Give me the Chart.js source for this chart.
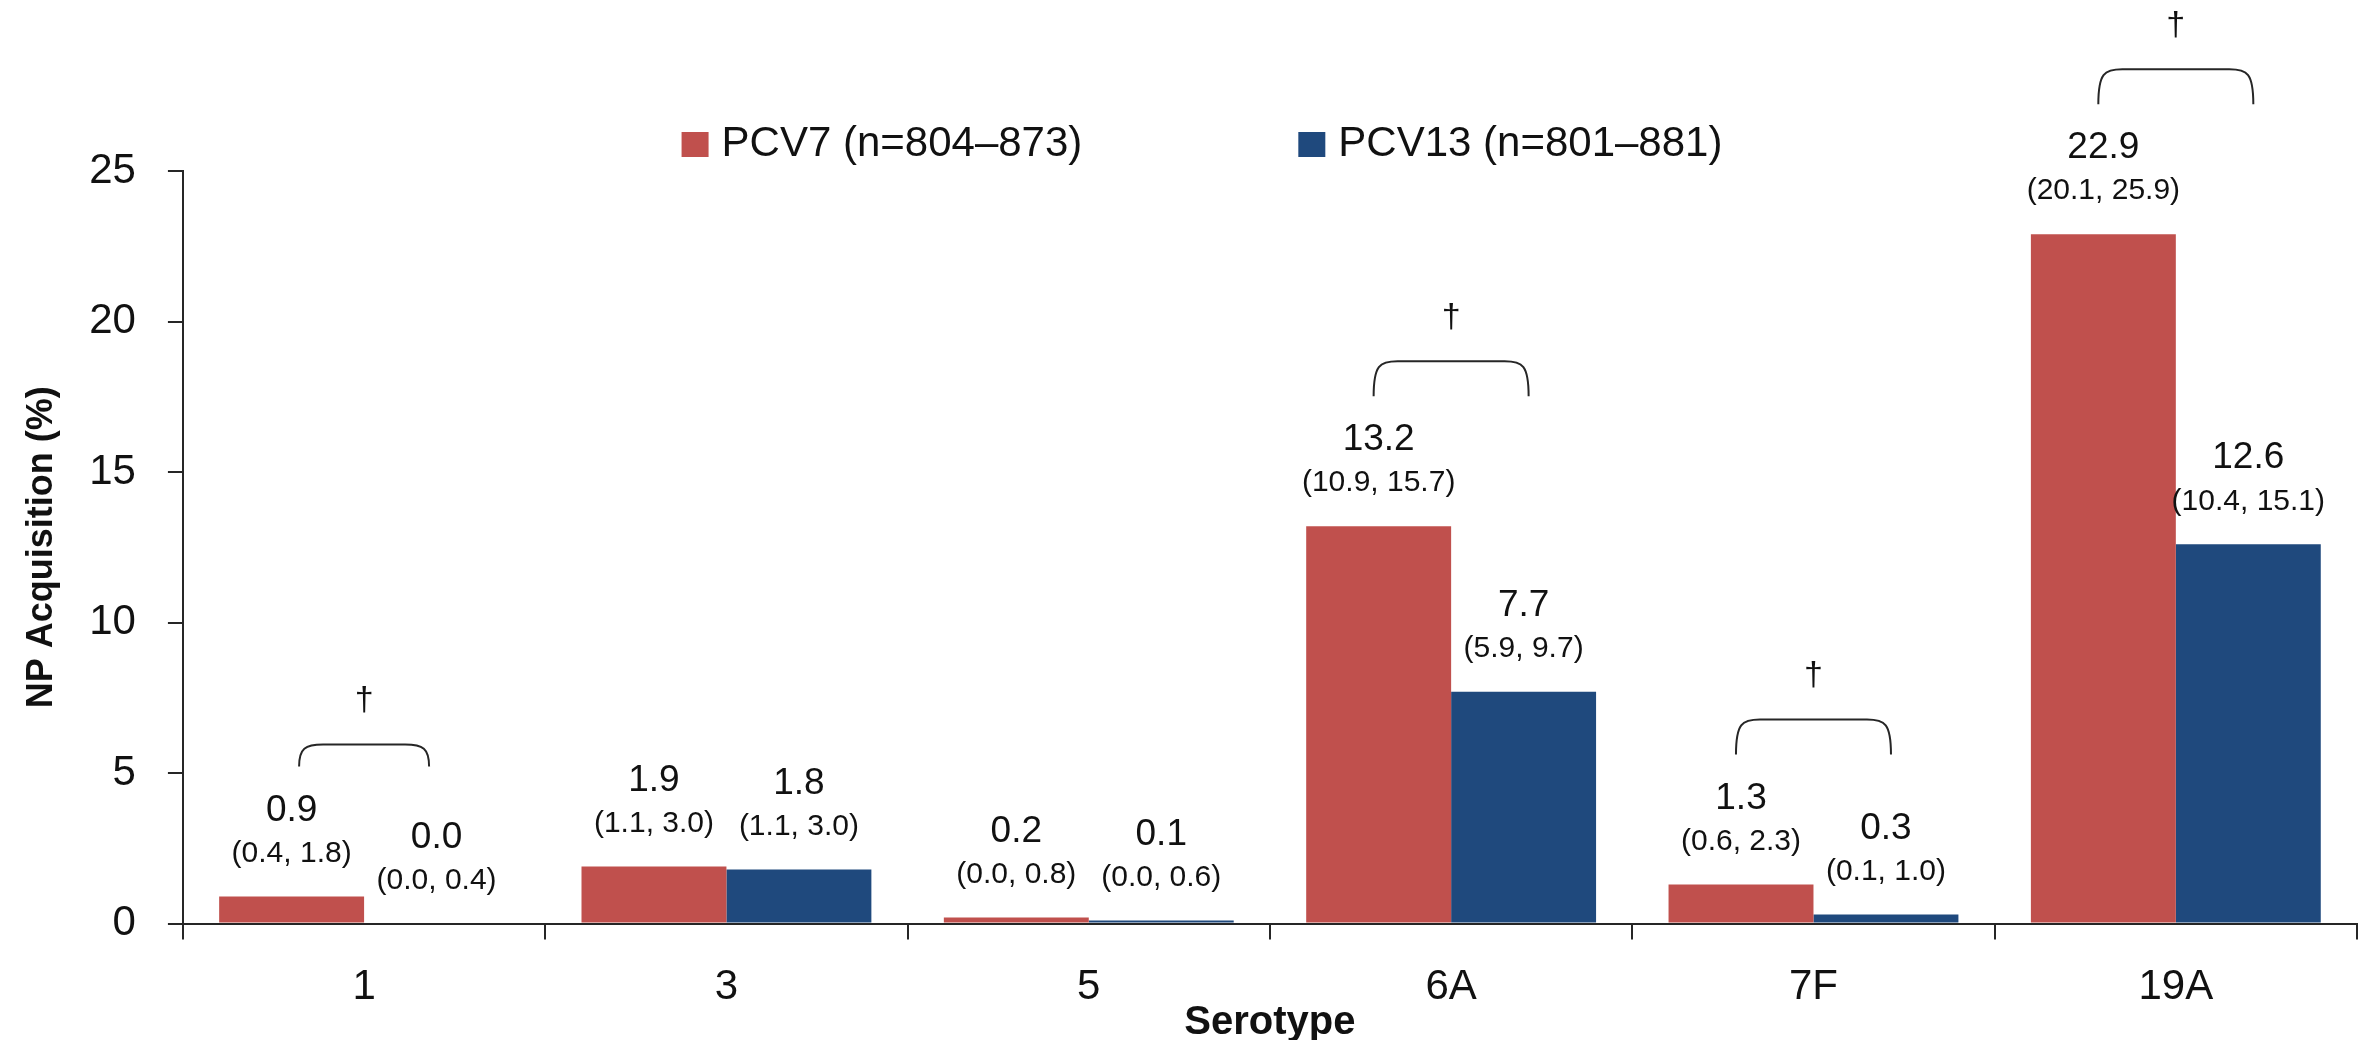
<!DOCTYPE html>
<html>
<head>
<meta charset="utf-8">
<title>NP Acquisition by Serotype</title>
<script src="https://cdn.jsdelivr.net/npm/chart.js@4"></script>
<style>
  html, body { margin: 0; padding: 0; background: #fff; overflow: hidden; }
  canvas { display: block; }
</style>
</head>
<body>
<canvas id="np-chart" width="2378" height="1040"></canvas>
<script>
var serotypes = ["1", "3", "5", "6A", "7F", "19A"];
var pcv7Values = [0.9, 1.9, 0.2, 13.2, 1.3, 22.9];
var pcv13Values = [0.0, 1.8, 0.1, 7.7, 0.3, 12.6];
var pcv7Ci = ["(0.4, 1.8)", "(1.1, 3.0)", "(0.0, 0.8)", "(10.9, 15.7)", "(0.6, 2.3)", "(20.1, 25.9)"];
var pcv13Ci = ["(0.0, 0.4)", "(1.1, 3.0)", "(0.0, 0.6)", "(5.9, 9.7)", "(0.1, 1.0)", "(10.4, 15.1)"];
var significant = [true, false, false, true, true, true];
var seriesNames = ["PCV7 (n=804\u2013873)", "PCV13 (n=801\u2013881)"];
var yTicks = [0, 5, 10, 15, 20, 25];

var RED = "#C0504D";
var BLUE = "#1F497D";
var INK = "#111";
var AXIS = "#262626";
var FONT = '"Liberation Sans", Arial, sans-serif';

// bracket sizes per category (the one over serotype 1 is drawn smaller)
var bracketW = [130, 0, 0, 155, 155, 155];
var bracketH = [22, 0, 0, 35, 35, 35];

Chart.defaults.font.family = FONT;
Chart.defaults.color = INK;

function drawBracket(ctx, cx, bottom, w, h){
  var l = cx - w / 2, r = cx + w / 2, top = bottom - h;
  ctx.beginPath();
  ctx.moveTo(l, bottom);
  ctx.bezierCurveTo(l, top + 4, l + 6, top, l + 24, top);
  ctx.lineTo(r - 24, top);
  ctx.bezierCurveTo(r - 6, top, r, top + 4, r, bottom);
  ctx.stroke();
}

var annotations = {
  id: "annotations",
  afterDatasetsDraw: function(chart){
    var ctx = chart.ctx;
    var sets = [
      { bars: chart.getDatasetMeta(0).data, vals: pcv7Values, ci: pcv7Ci },
      { bars: chart.getDatasetMeta(1).data, vals: pcv13Values, ci: pcv13Ci }
    ];
    ctx.save();
    ctx.fillStyle = INK;
    ctx.textAlign = "center";
    ctx.textBaseline = "middle";
    sets.forEach(function(s){
      s.bars.forEach(function(bar, i){
        ctx.font = "37px " + FONT;
        ctx.fillText(s.vals[i].toFixed(1), bar.x, bar.y - 86);
        ctx.font = "30px " + FONT;
        ctx.fillText(s.ci[i], bar.x, bar.y - 43);
      });
    });

    // significance brackets with dagger
    ctx.strokeStyle = AXIS;
    ctx.lineWidth = 2;
    significant.forEach(function(sig, i){
      if (!sig) return;
      var a = sets[0].bars[i], b = sets[1].bars[i];
      var cx = (a.x + b.x) / 2;
      var labelY = Math.min(a.y, b.y) - 86;
      var bottom = labelY - 44;
      drawBracket(ctx, cx, bottom, bracketW[i], bracketH[i]);
      ctx.font = "34px " + FONT;
      ctx.fillText("\u2020", cx, bottom - bracketH[i] - 44);
    });

    // legend
    ctx.font = "42px " + FONT;
    ctx.textAlign = "left";
    var colors = [RED, BLUE];
    var widths = seriesNames.map(function(t){ return 27 + 13 + ctx.measureText(t).width; });
    var total = widths[0] + 216 + widths[1];
    var x = chart.width / 2 + 13 - total / 2;
    var y = 144;
    seriesNames.forEach(function(t, k){
      ctx.fillStyle = colors[k];
      ctx.fillRect(x, y - 12, 27, 25);
      ctx.fillStyle = INK;
      ctx.fillText(t, x + 40, y);
      x += widths[k] + 216;
    });
    ctx.restore();
  }
};

var ctx = document.getElementById("np-chart");
new Chart(ctx, {
  type: "bar",
  data: {
    labels: serotypes,
    datasets: [
      { label: seriesNames[0], data: pcv7Values, backgroundColor: RED },
      { label: seriesNames[1], data: pcv13Values, backgroundColor: BLUE }
    ]
  },
  options: {
    responsive: false,
    animation: false,
    layout: { padding: { top: 171, right: 21, left: 0, bottom: 0 } },
    datasets: { bar: { barPercentage: 1.0, categoryPercentage: 0.8 } },
    plugins: {
      legend: { display: false },
      tooltip: { enabled: false }
    },
    scales: {
      x: {
        grid: {
          drawOnChartArea: false,
          tickLength: 16,
          lineWidth: 2,
          color: function(c){ return c.index === serotypes.length ? "rgba(0,0,0,0)" : AXIS; }
        },
        border: { color: AXIS, width: 2 },
        ticks: { font: { size: 42 }, padding: 23, maxRotation: 0, autoSkip: false, color: INK },
        title: {
          display: true,
          text: "Serotype",
          font: { size: 40, weight: "bold" },
          color: INK,
          padding: { top: -37, bottom: -7 }
        }
      },
      y: {
        min: yTicks[0],
        max: yTicks[yTicks.length - 1],
        grid: { drawOnChartArea: false, tickLength: 15, lineWidth: 2, color: AXIS },
        border: { color: AXIS, width: 2 },
        ticks: { stepSize: yTicks[1] - yTicks[0], font: { size: 42 }, padding: 32, color: INK },
        title: {
          display: true,
          text: "NP Acquisition (%)",
          font: { size: 36, weight: "bold" },
          color: INK,
          padding: { top: 20, bottom: -6 }
        }
      }
    }
  },
  plugins: [annotations]
});
</script>
</body>
</html>
